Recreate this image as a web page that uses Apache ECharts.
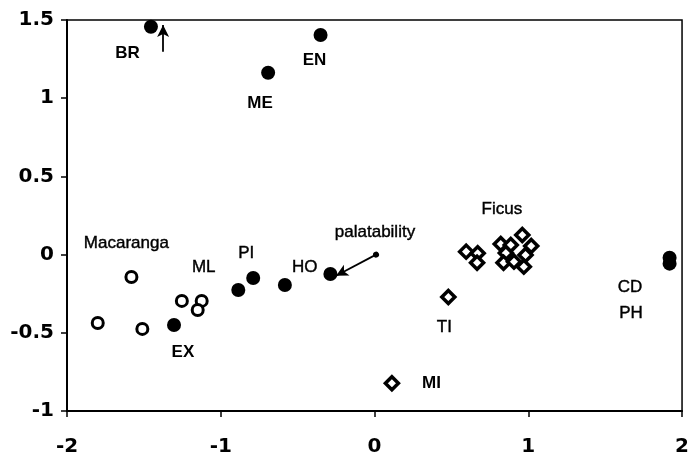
<!DOCTYPE html>
<html>
<head>
<meta charset="utf-8">
<script src="https://cdn.jsdelivr.net/npm/echarts@6/dist/echarts.min.js"></script>
<style>html,body{margin:0;padding:0;background:#fff}#c{width:692px;height:459px}</style>
</head>
<body>
<div id="c"></div>
<script>
// Filled circles (other species)
var filledPoints = [
  [-1.454, 1.457], [-0.351, 1.404], [-0.692, 1.163],
  [-0.886, -0.226], [-0.789, -0.150], [-0.583, -0.194],
  [-0.287, -0.124], [-1.304, -0.450],
  [1.919, -0.020], [1.919, -0.058]
];
// Open circles (Macaranga)
var macarangaPoints = [
  [-1.581, -0.143], [-1.800, -0.437], [-1.510, -0.475],
  [-1.253, -0.296], [-1.124, -0.296], [-1.150, -0.354]
];
// Diamonds (Ficus, TI, MI)
var ficusPoints = [
  [0.596, 0.019], [0.671, 0.008], [0.667, -0.052],
  [0.821, 0.068], [0.886, 0.061], [0.854, 0.010],
  [0.839, -0.052], [0.907, -0.045], [0.961, 0.125],
  [1.019, 0.055], [0.982, -0.003], [0.971, -0.077],
  [0.480, -0.271], [0.113, -0.823]
];
// Text labels: [x, y, text, bold]
var textLabels = [
  [-1.607, 1.289, 'BR', 1], [-0.390, 1.244, 'EN', 1], [-0.744, 0.969, 'ME', 1],
  [-1.614, 0.074, 'Macaranga', 0], [-1.111, -0.079, 'ML', 0], [-0.834, 0.010, 'PI', 0],
  [-0.454, -0.079, 'HO', 0], [0.003, 0.144, 'palatability', 0], [-1.246, -0.623, 'EX', 1],
  [0.828, 0.292, 'Ficus', 0], [0.454, -0.463, 'TI', 0], [1.661, -0.207, 'CD', 0],
  [1.668, -0.373, 'PH', 0], [0.370, -0.821, 'MI', 1]
];
// Arrows: [x1, y1, x2, y2]
var palatabilityArrow = [0.01, 0.0, -0.25, -0.135];
var brArrow = [-1.375, 1.297, -1.375, 1.468];
var xTicks = [-2, -1, 0, 1, 2];
var yTicks = [-1, -0.5, 0, 0.5, 1, 1.5];

var chart = echarts.init(document.getElementById('c'), null, {renderer: 'canvas'});
var tickFont = {fontFamily: 'DejaVu Sans', fontWeight: 'bold', fontSize: 20, color: '#000'};
chart.setOption({
  animation: false,
  backgroundColor: '#fff',
  grid: {left: 67, right: 4, top: 20, bottom: 48, show: true, borderColor: '#000', borderWidth: 1.5, containLabel: false},
  xAxis: {
    type: 'value', min: xTicks[0], max: xTicks[xTicks.length - 1], interval: 1,
    splitLine: {show: false},
    axisLine: {onZero: false, lineStyle: {color: '#000', width: 2}},
    axisTick: {length: 6, lineStyle: {color: '#000', width: 1.5}},
    axisLabel: Object.assign({margin: 26}, tickFont)
  },
  yAxis: {
    type: 'value', min: yTicks[0], max: yTicks[yTicks.length - 1], interval: 0.5,
    splitLine: {show: false},
    axisLine: {onZero: false, lineStyle: {color: '#000', width: 2}},
    axisTick: {length: 6, lineStyle: {color: '#000', width: 1.5}},
    axisLabel: Object.assign({margin: 13}, tickFont)
  },
  series: [
    {
      type: 'scatter', data: filledPoints, symbol: 'circle', symbolSize: 14,
      itemStyle: {color: '#000', opacity: 1}, z: 3,
      markLine: {
        silent: true, animation: false,
        label: {show: false},
        lineStyle: {color: '#000', width: 1.8, type: 'solid', opacity: 1},
        data: [
          [{coord: [palatabilityArrow[0], palatabilityArrow[1]], symbol: 'circle', symbolSize: 6},
           {coord: [palatabilityArrow[2], palatabilityArrow[3]], symbol: 'arrow', symbolSize: [9, 12]}],
          [{coord: [brArrow[0], brArrow[1]], symbol: 'none'},
           {coord: [brArrow[2], brArrow[3]], symbol: 'arrow', symbolSize: [9, 12]}]
        ]
      }
    },
    {
      type: 'scatter', data: macarangaPoints, symbol: 'circle', symbolSize: 11,
      itemStyle: {color: '#fff', borderColor: '#000', borderWidth: 3, opacity: 1}, z: 3
    },
    {
      type: 'scatter', data: ficusPoints, symbol: 'diamond', symbolSize: [13, 13],
      itemStyle: {color: '#fff', borderColor: '#000', borderWidth: 3.5, opacity: 1}, z: 3
    },
    {
      type: 'scatter', symbol: 'circle', symbolSize: 1, silent: true, z: 4,
      itemStyle: {color: '#fff', opacity: 0},
      data: textLabels.map(function (t) {
        return {
          value: [t[0], t[1]],
          label: {
            show: true, position: 'inside', formatter: t[2], opacity: 1,
            fontFamily: 'Liberation Sans, Arial', fontSize: 17,
            fontWeight: t[3] ? 'bold' : 'normal', color: '#000',
            textBorderWidth: t[3] ? 0 : 0.4, textBorderColor: '#000'
          }
        };
      })
    }
  ]
});
</script>
</body>
</html>
